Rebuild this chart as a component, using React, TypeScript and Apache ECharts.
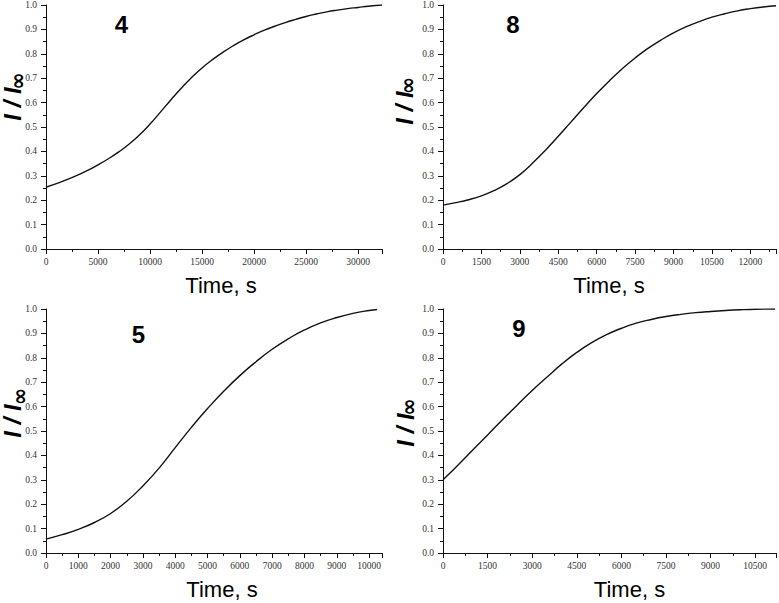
import React, { useEffect, useRef } from "react";
import * as echarts from "echarts";

// Panel "4"
const time4 = [0, 1000, 2000, 3000, 4000, 5000, 6000, 7000, 8000, 9000, 10000, 11000, 12000, 13000, 14000, 15000, 16000, 17000, 18000, 19000, 20000, 21000, 22000, 23000, 24000, 25000, 26000, 27000, 28000, 29000, 30000, 31000, 32300];
const ratio4 = [0.253, 0.268, 0.284, 0.302, 0.322, 0.345, 0.37, 0.398, 0.43, 0.468, 0.512, 0.561, 0.611, 0.659, 0.703, 0.742, 0.776, 0.806, 0.833, 0.857, 0.878, 0.897, 0.913, 0.928, 0.941, 0.953, 0.963, 0.972, 0.979, 0.985, 0.99, 0.995, 1.0];

// Panel "8"
const time8 = [0, 500, 1000, 1500, 2000, 2500, 3000, 3500, 4000, 4500, 5000, 5500, 6000, 6500, 7000, 7500, 8000, 8500, 9000, 9500, 10000, 10500, 11000, 11500, 12000, 12500, 13000];
const ratio8 = [0.18, 0.19, 0.202, 0.218, 0.24, 0.268, 0.305, 0.352, 0.405, 0.462, 0.521, 0.58, 0.637, 0.69, 0.739, 0.783, 0.822, 0.856, 0.886, 0.911, 0.932, 0.95, 0.964, 0.976, 0.985, 0.992, 0.997];

// Panel "5"
const time5 = [0, 500, 1000, 1500, 2000, 2500, 3000, 3500, 4000, 4500, 5000, 5500, 6000, 6500, 7000, 7500, 8000, 8500, 9000, 9500, 10000, 10250];
const ratio5 = [0.057, 0.075, 0.097, 0.125, 0.162, 0.212, 0.275, 0.348, 0.432, 0.515, 0.592, 0.663, 0.727, 0.784, 0.835, 0.878, 0.914, 0.943, 0.965, 0.982, 0.994, 0.998];

// Panel "9"
const time9 = [0, 500, 1000, 1500, 2000, 2500, 3000, 3500, 4000, 4500, 5000, 5500, 6000, 6500, 7000, 7500, 8000, 8500, 9000, 9500, 10000, 10500, 11170];
const ratio9 = [0.3, 0.36, 0.422, 0.484, 0.546, 0.607, 0.666, 0.721, 0.775, 0.822, 0.862, 0.895, 0.921, 0.942, 0.957, 0.969, 0.978, 0.985, 0.99, 0.994, 0.997, 0.999, 1.0];

const panelLabels = ["4", "8", "5", "9"];
const xMaxes = [32300, 13000, 10400, 11200];
const xSteps = [5000, 1500, 1000, 1500];
const yTickStep = 0.1;
const xTitle = "Time, s";
const yTitleMain = "I / I";
const yTitleSub = "\u221E";

export default function App() {
  const ref = useRef<HTMLDivElement>(null);
  useEffect(() => {
    if (!ref.current) return;
    const chart = echarts.init(ref.current, undefined, { renderer: "svg" });

    const series = [
      [time4, ratio4],
      [time8, ratio8],
      [time5, ratio5],
      [time9, ratio9],
    ];

    const grids = [
      { left: 46, top: 5, width: 336, height: 244 },
      { left: 443, top: 5, width: 335, height: 244 },
      { left: 46, top: 309, width: 336, height: 244 },
      { left: 443, top: 309, width: 335, height: 244 },
    ];

    const numberPos = [
      [121.5, 24],
      [513, 24],
      [138.5, 334],
      [519, 328],
    ];
    const xTitlePos = [
      [221, 285, 22],
      [609, 285, 22],
      [222, 589, 22],
      [629.5, 589, 22],
    ];
    const yMainPos = [
      [12, 104],
      [404, 108],
      [12, 421],
      [405.5, 430],
    ];
    const ySubPos = [
      [18, 81],
      [407.5, 85.5],
      [19.5, 396.5],
      [409, 407],
    ];

    const labelFont = {
      fontFamily: "Liberation Serif",
      fontSize: 9.5,
      color: "#333",
    };

    const xAxis = grids.map((_, i) => ({
      type: "value",
      gridIndex: i,
      min: 0,
      max: xMaxes[i],
      interval: xSteps[i],
      axisLine: { show: true, lineStyle: { color: "#111", width: 1 } },
      axisTick: { show: true, inside: false, length: 5, lineStyle: { color: "#111" } },
      minorTick: { show: true, splitNumber: 2, length: 3, lineStyle: { color: "#111" } },
      splitLine: { show: false },
      axisLabel: {
        ...labelFont,
        margin: 8,
        formatter: (v: number) => (v % xSteps[i] === 0 ? String(v) : ""),
      },
    }));

    const yAxis = grids.map((_, i) => ({
      type: "value",
      gridIndex: i,
      min: 0,
      max: 1,
      interval: yTickStep,
      axisLine: { show: true, lineStyle: { color: "#111", width: 1 } },
      axisTick: { show: true, inside: false, length: 5, lineStyle: { color: "#111" } },
      minorTick: { show: true, splitNumber: 2, length: 3, lineStyle: { color: "#111" } },
      splitLine: { show: false },
      axisLabel: {
        ...labelFont,
        margin: 9,
        formatter: (v: number) => v.toFixed(1),
      },
    }));

    const graphic: any[] = [];
    for (let i = 0; i < 4; i++) {
      graphic.push({
        type: "text",
        x: numberPos[i][0],
        y: numberPos[i][1],
        style: {
          text: panelLabels[i],
          fontFamily: "Liberation Sans, Arial",
          fontWeight: "bold",
          fontSize: 24,
          fill: "#000",
          align: "center",
          verticalAlign: "middle",
        },
      });
      graphic.push({
        type: "text",
        x: xTitlePos[i][0],
        y: xTitlePos[i][1],
        style: {
          text: xTitle,
          fontFamily: "Liberation Sans, Arial",
          fontSize: xTitlePos[i][2],
          fill: "#000",
          align: "center",
          verticalAlign: "middle",
        },
      });
      graphic.push({
        type: "text",
        x: yMainPos[i][0],
        y: yMainPos[i][1],
        rotation: Math.PI / 2,
        style: {
          text: yTitleMain,
          fontFamily: "Liberation Sans, Arial",
          fontWeight: "bold",
          fontStyle: "italic",
          fontSize: 24,
          fill: "#000",
          align: "center",
          verticalAlign: "middle",
        },
      });
      graphic.push({
        type: "text",
        x: ySubPos[i][0],
        y: ySubPos[i][1],
        rotation: Math.PI / 2,
        style: {
          text: yTitleSub,
          fontFamily: "DejaVu Sans",
          fontWeight: "bold",
          fontSize: 21,
          fill: "#000",
          align: "center",
          verticalAlign: "middle",
        },
      });
    }

    chart.setOption({
      animation: false,
      backgroundColor: "#fff",
      grid: grids,
      xAxis,
      yAxis,
      graphic,
      series: series.map(([t, v], i) => ({
        type: "line",
        xAxisIndex: i,
        yAxisIndex: i,
        data: t.map((x, k) => [x, v[k]]),
        showSymbol: false,
        smooth: 0.5,
        lineStyle: { color: "#111", width: 1.4 },
      })),
    });
    return () => chart.dispose();
  }, []);

  return (
    <div
      ref={ref}
      style={{ position: "absolute", left: 0, top: 0, width: 779, height: 603 }}
    />
  );
}
